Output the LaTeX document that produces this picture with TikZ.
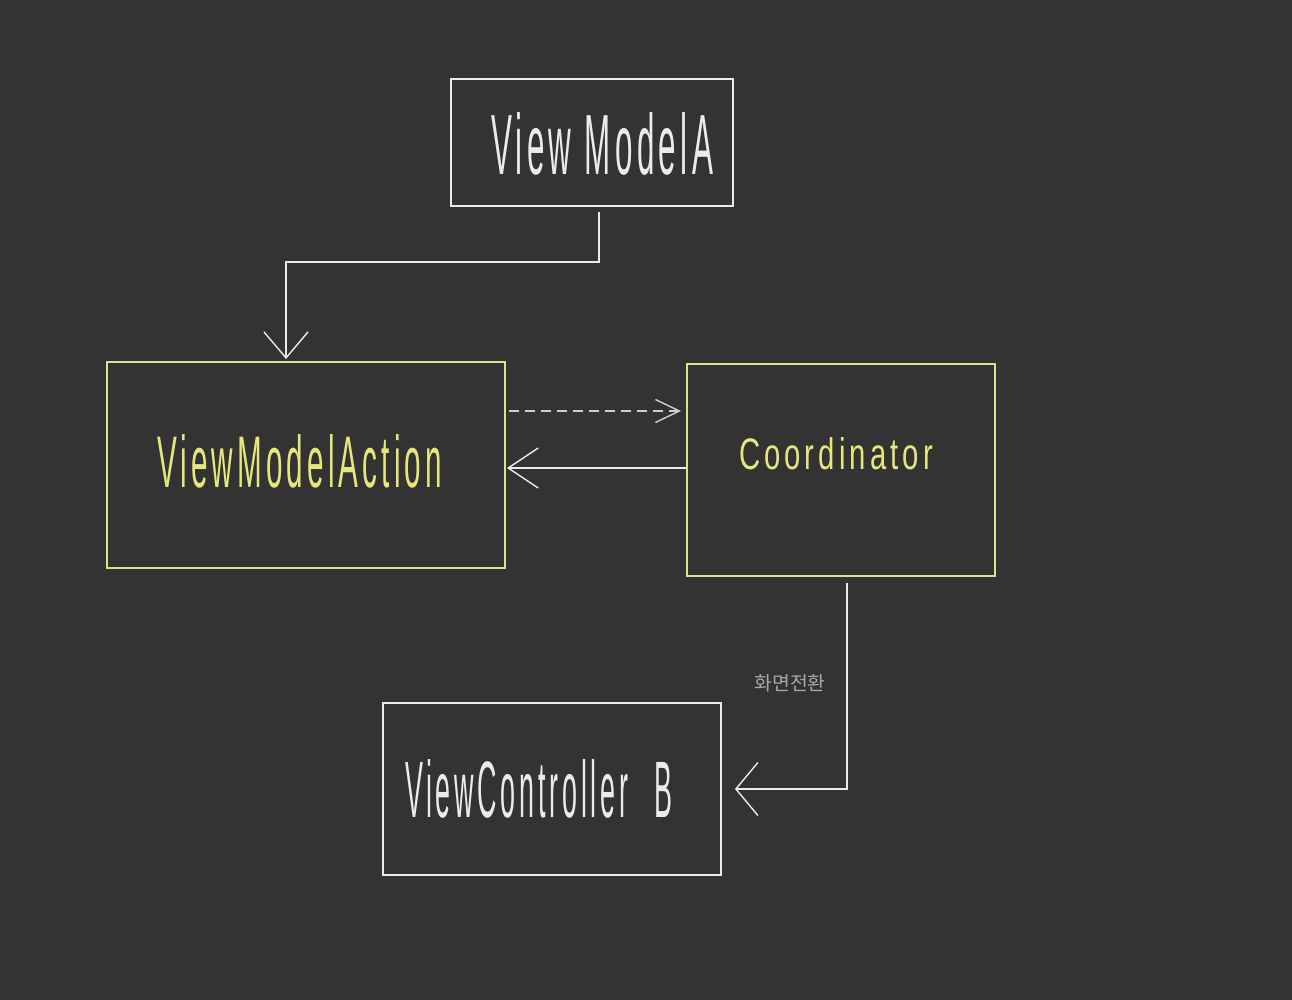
\documentclass[tikz,border=0pt]{standalone}
\usepackage{graphicx}
\usepackage{fontspec}
\setmainfont{Liberation Sans}
\newfontfamily\handfont[LetterSpace=14]{Liberation Sans}
\newfontfamily\krfont{Noto Sans CJK KR}
\usepackage{tikz}
\usetikzlibrary{positioning, arrows.meta, calc}
\definecolor{board}{HTML}{333333}
\definecolor{chalk}{HTML}{EBEBEB}
\definecolor{chalkdim}{HTML}{CFCFCF}
\definecolor{marker}{HTML}{E6E67C}
\definecolor{markerbox}{HTML}{E0E08C}
\definecolor{pencil}{HTML}{A8A8A8}
\tikzset{
  whitebox/.style={rectangle, draw=chalk, line width=0.8pt, inner sep=0pt, outer sep=0pt},
  yellowbox/.style={rectangle, draw=markerbox, line width=0.8pt, inner sep=0pt, outer sep=0pt},
  hand/.style={inner sep=0pt, font=\handfont\fontsize{20}{22}\selectfont},
  wire/.style={draw=chalk, line width=0.8pt},
  dashwire/.style={draw=chalkdim, line width=0.8pt, dash pattern=on 0.2cm off 0.12cm}
}
\newcommand{\scribble}[3]{\resizebox{#1}{#2}{#3}}

\begin{document}
\begin{tikzpicture}[x=0.02cm, y=-0.02cm]

    % fond
    \fill[board] (0,0) rectangle (1292,1000);
    \useasboundingbox (0,0) rectangle (1292,1000);

    % Boites
    \node[whitebox, minimum width=5.64cm, minimum height=2.54cm] (vma) at (592,142.5) {};
    \node[yellowbox, minimum width=7.96cm, minimum height=4.12cm] (vmaction) at (306,465) {};
    \node[yellowbox, minimum width=6.16cm, minimum height=4.24cm] (coord) at (841,470) {};
    \node[whitebox, minimum width=6.76cm, minimum height=3.44cm] (vcb) at (552,789) {};

    % Textes
    \node[hand, text=chalk] (vmatext) at (602,144) {\scribble{4.44cm}{1.24cm}{View ModelA}};
    \node[hand, text=marker] (vmactiontext) at (299.5,461.5) {\scribble{5.70cm}{1.06cm}{ViewModelAction}};
    \node[hand, text=marker] (coordtext) at (836,454) {\scribble{3.88cm}{0.64cm}{Coordinator}};
    \node[hand, text=chalk] (vcbtext) at (539,789) {\scribble{5.36cm}{1.16cm}{ViewController\quad B}};

    % Connexions
    \draw[wire, -{Straight Barb[length=0.52cm, width=0.88cm]}]
        ($(vma.south)+(7,6)$) -- ++(0,50) -| ($(vmaction.north)+(-20,-3)$);

    \coordinate (dashA) at ($(vmaction.east)+(4,-54)$);
    \draw[dashwire, -{Straight Barb[length=0.48cm, width=0.46cm]}, shorten >=0.12cm]
        (dashA) -- (dashA -| coord.west);

    \draw[wire, -{Straight Barb[length=0.6cm, width=0.8cm]}]
        ($(coord.west)+(0,-2)$) -- ($(coord.west -| vmaction.east)+(2,-2)$);

    \draw[wire, -{Straight Barb[length=0.44cm, width=1.06cm]}]
        ($(coord.south)+(6,7)$) |- ($(vcb.east)+(14,0)$);

    \node[text=pencil, inner sep=0pt, font=\krfont\fontsize{11}{12}\selectfont] (switch) at (790,683) {화면전환};

\end{tikzpicture}
\end{document}
